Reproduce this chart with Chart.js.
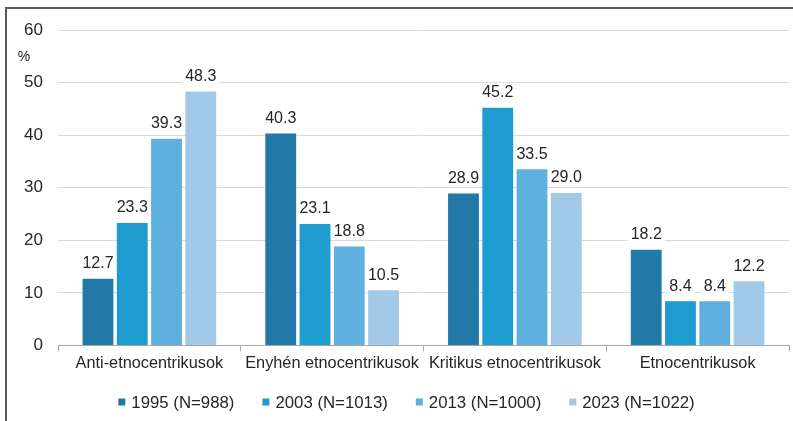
<!DOCTYPE html>
<html>
<head>
<meta charset="utf-8">
<script src="https://cdn.jsdelivr.net/npm/chart.js@4/dist/chart.umd.min.js"></script>
<style>
  html, body { margin: 0; padding: 0; background: #fff; }
  body { width: 793px; height: 421px; overflow: hidden; position: relative; }
  #frame { position: absolute; left: 5px; top: 7px; width: 788px; height: 414px;
           border-left: 2px solid #595959; border-top: 2px solid #595959; }
  #wrap { position: absolute; left: 0; top: 0; width: 786px; height: 412px; }
</style>
</head>
<body>
<div id="frame"><div id="wrap"><canvas id="c"></canvas></div></div>
<script>
const categories = ["Anti-etnocentrikusok", "Enyhén etnocentrikusok", "Kritikus etnocentrikusok", "Etnocentrikusok"];
const seriesNames = ["1995 (N=988)", "2003 (N=1013)", "2013 (N=1000)", "2023 (N=1022)"];
const v1995 = [12.7, 40.3, 28.9, 18.2];
const v2003 = [23.3, 23.1, 45.2, 8.4];
const v2013 = [39.3, 18.8, 33.5, 8.4];
const v2023 = [48.3, 10.5, 29.0, 12.2];
const yTicks = [0, 10, 20, 30, 40, 50, 60];
const unitLabel = "%";

const colors = ["#2279a8", "#1e9bcf", "#5fb0df", "#a3c9e8"];
const FONT = "'Liberation Sans', Arial, sans-serif";
const LABEL_FONT = "16px " + FONT;

function labelBoxes(chart, cb) {
  chart.data.datasets.forEach((ds, i) => {
    const meta = chart.getDatasetMeta(i);
    meta.data.forEach((bar, j) => cb(ds.data[j].toFixed(1), bar.x, bar.y - 16));
  });
}

const labelPlugin = {
  id: 'barLabels',
  beforeDatasetsDraw(chart) {
    const ctx = chart.ctx;
    ctx.save();
    ctx.font = LABEL_FONT;
    ctx.fillStyle = '#fff';
    labelBoxes(chart, (txt, x, cy) => {
      const w = ctx.measureText(txt).width + 6;
      ctx.fillRect(x - w / 2, cy - 9, w, 18);
    });
    ctx.restore();
  },
  afterDatasetsDraw(chart) {
    const ctx = chart.ctx;
    ctx.save();
    ctx.font = LABEL_FONT;
    ctx.textAlign = 'center';
    ctx.textBaseline = 'middle';
    ctx.fillStyle = '#262626';
    labelBoxes(chart, (txt, x, cy) => ctx.fillText(txt, x, cy + 1));

    // unit label
    ctx.font = "14px " + FONT;
    ctx.fillText(unitLabel, 17, 48);

    // legend
    ctx.font = "16.8px " + FONT;
    ctx.textAlign = 'left';
    const box = 7, gapBox = 6, gapItem = 28;
    const widths = chart.data.datasets.map(ds => ctx.measureText(ds.label).width);
    const total = widths.reduce((a, w) => a + box + gapBox + w, 0) + gapItem * (widths.length - 1);
    let x = 399.5 - total / 2;
    const y = 393;
    chart.data.datasets.forEach((ds, i) => {
      ctx.fillStyle = ds.backgroundColor;
      ctx.fillRect(x, y - box / 2, box, box);
      x += box + gapBox;
      ctx.fillStyle = '#262626';
      ctx.fillText(ds.label, x, y + 1);
      x += widths[i] + gapItem;
    });
    ctx.restore();
  }
};

const series = [v1995, v2003, v2013, v2023];
new Chart(document.getElementById('c'), {
  type: 'bar',
  data: {
    labels: categories,
    datasets: series.map((d, i) => ({
      label: seriesNames[i],
      data: d,
      backgroundColor: colors[i],
      borderWidth: 0,
      barPercentage: 0.9,
      categoryPercentage: 0.75
    }))
  },
  options: {
    responsive: true,
    maintainAspectRatio: false,
    animation: false,
    layout: { padding: { top: 21, right: 4, left: 0, bottom: 46 } },
    plugins: {
      tooltip: { enabled: false },
      legend: { display: false }
    },
    scales: {
      x: {
        grid: { display: true, drawOnChartArea: false, drawTicks: true, tickLength: 6, color: '#a6a6a6', offset: true },
        border: { display: true, color: '#a6a6a6', width: 1 },
        ticks: { font: { size: 16.3, family: FONT }, color: '#262626', padding: 2, maxRotation: 0 }
      },
      y: {
        min: 0, max: 60,
        afterBuildTicks(scale) { scale.ticks = yTicks.map(v => ({ value: v })); },
        afterFit(scale) { scale.width = 51; scale.paddingTop = 0; },
        grid: { color: '#d9d9d9', drawTicks: false },
        border: { display: false },
        ticks: { font: { size: 17, family: FONT }, color: '#262626', padding: 15 }
      }
    }
  },
  plugins: [labelPlugin]
});
</script>
</body>
</html>
